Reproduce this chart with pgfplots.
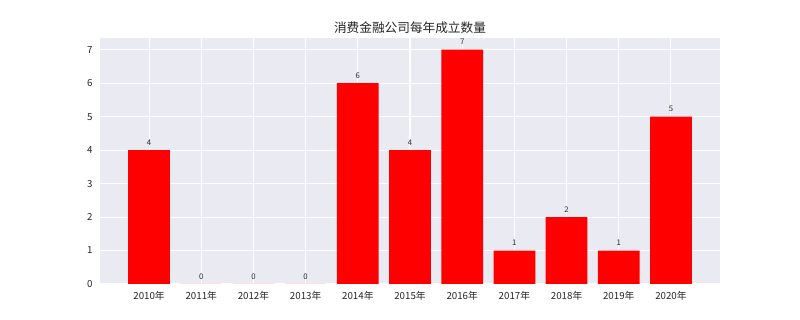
\documentclass[border=0pt]{standalone}
\usepackage{pgfplots}
\pgfplotsset{compat=1.18}
\usepackage{fontspec}
\setmainfont{Noto Sans CJK SC}
\definecolor{bgc}{HTML}{EAEAF2}
\definecolor{txt}{HTML}{262626}
\begin{document}
\begin{tikzpicture}
\path[use as bounding box, fill=white] (0,0) rectangle (600pt,240pt);
\begin{axis}[
  at={(75pt,27pt)}, anchor=south west,
  scale only axis, width=465pt, height=184.5pt,
  xmin=-0.94, xmax=10.94, ymin=0, ymax=7.35,
  axis background/.style={fill=bgc},
  axis line style={draw=none},
  major tick length=0pt,
  grid=major, major grid style={white, line width=0.8pt},
  xtick={0,...,10},
  xticklabels={2010年,2011年,2012年,2013年,2014年,2015年,2016年,2017年,2018年,2019年,2020年},
  ytick={0,...,7},
  /pgf/number format/assume math mode=true,
  tick label style={font=\fontsize{7.3pt}{8pt}\selectfont, text=txt},
  xticklabel style={yshift=-2pt},
  yticklabel style={xshift=-2pt},
  title={消费金融公司每年成立数量},
  title style={font=\fontsize{9.5pt}{11pt}\selectfont, text=txt, yshift=-6.5pt},
  ybar, bar width=0.8,
  nodes near coords,
  every node near coord/.append style={font=\fontsize{5.8pt}{6pt}\selectfont, text=txt, /pgf/number format/assume math mode=true},
]
\addplot[fill=red, draw=none] coordinates {
(0,4) (1,0) (2,0) (3,0) (4,6) (5,4) (6,7) (7,1) (8,2) (9,1) (10,5)};
\end{axis}
\end{tikzpicture}
\end{document}
